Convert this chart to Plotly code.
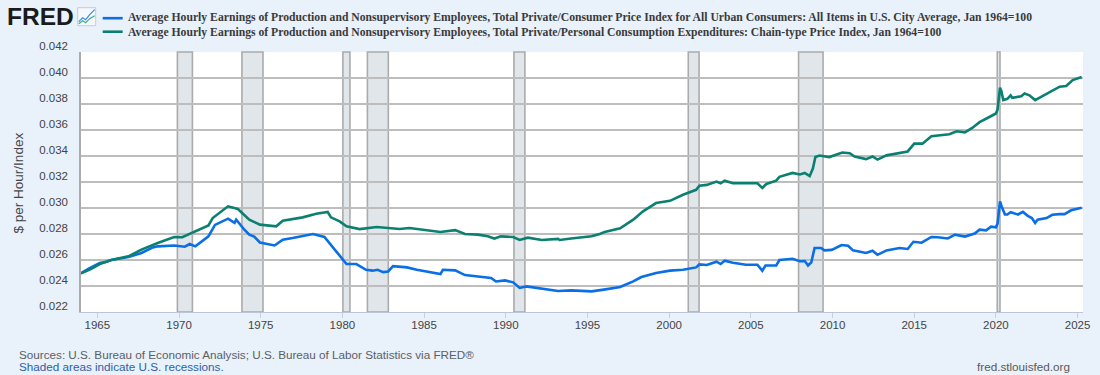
import plotly.graph_objects as go

W, H = 1100, 375
L, R, T, B = 81.3, 1083.5, 52.3, 312.3

title_cpi = "Average Hourly Earnings of Production and Nonsupervisory Employees, Total Private/Consumer Price Index for All Urban Consumers: All Items in U.S. City Average, Jan 1964=100"
title_pce = "Average Hourly Earnings of Production and Nonsupervisory Employees, Total Private/Personal Consumption Expenditures: Chain-type Price Index, Jan 1964=100"

years_cpi = [1964.0,1964.5,1965.15,1965.5,1965.85,1966.9,1967.7,1968.4,1968.7,1969.7,1970.35,1970.65,1971.0,1971.8,1972.2,1973.0,1973.4,1973.5,1974.0,1974.3,1974.6,1974.95,1975.85,1976.35,1976.95,1978.2,1978.9,1979.2,1979.8,1980.25,1980.85,1981.45,1981.85,1982.15,1982.5,1982.8,1983.1,1983.95,1984.55,1985.05,1986.0,1986.15,1986.9,1987.5,1988.5,1989.1,1989.4,1989.95,1990.45,1990.85,1991.25,1992.2,1993.2,1994.0,1995.25,1996.0,1997.0,1997.8,1998.3,1999.2,2000.05,2000.85,2001.65,2001.85,2002.3,2002.9,2003.15,2003.4,2003.9,2004.7,2005.4,2005.7,2005.9,2006.55,2006.75,2007.55,2008.0,2008.3,2008.5,2008.7,2008.9,2009.3,2009.5,2009.95,2010.55,2010.95,2011.25,2012.05,2012.45,2012.75,2013.3,2014.1,2014.6,2014.95,2015.45,2016.05,2016.45,2017.05,2017.5,2018.1,2018.7,2019.0,2019.4,2019.7,2020.0,2020.1,2020.25,2020.35,2020.55,2020.7,2020.9,2021.35,2021.65,2021.95,2022.2,2022.4,2022.55,2023.1,2023.45,2023.9,2024.2,2024.6,2025.25]
values_cpi = [.02497,.02535,.02577,.02585,.0260,.02623,.02654,.02697,.02705,.02712,.02702,.02723,.02705,.02782,.0287,.02918,.02885,.0291,.02833,.02795,.0278,.02735,.02712,.02756,.02769,.028,.02777,.0273,.0264,.02569,.02569,.02525,.02518,.02525,.02507,.02512,.02553,.02543,.02525,.02512,.02492,.02525,.0252,.02484,.02469,.02462,.02435,.02443,.02428,.02385,.02397,.02379,.02362,.02366,.02359,.02372,.02392,.02435,.02469,.025,.02518,.02525,.02543,.02566,.02562,.02587,.02569,.02595,.02579,.02564,.02564,.02518,.02558,.02558,.026,.0261,.0259,.02592,.02558,.02582,.02692,.02692,.02674,.02678,.02715,.0271,.02674,.02654,.02671,.0264,.02674,.02692,.02685,.0274,.02733,.02777,.02775,.02766,.02795,.0278,.02803,.02833,.02828,.02856,.02851,.0288,.0305,.03012,.0295,.0295,.02967,.0295,.0297,.0294,.02923,.02885,.0291,.02923,.02948,.02953,.02953,.02982,.03002]

years_pce = [1964.0,1964.6,1965.15,1965.85,1966.9,1967.7,1968.7,1969.7,1970.2,1970.75,1971.8,1972.06,1973.0,1973.6,1974.3,1974.95,1975.95,1976.35,1977.57,1978.4,1979.1,1979.3,1979.83,1980.25,1981.05,1982.1,1982.7,1983.5,1984.1,1985.05,1986.0,1986.9,1987.5,1988.3,1988.9,1989.3,1989.7,1990.45,1990.85,1991.35,1992.2,1993.2,1993.3,1994.0,1995.25,1995.75,1996.05,1997.0,1997.8,1998.4,1999.2,2000.05,2000.85,2001.65,2001.85,2002.3,2002.9,2003.15,2003.4,2003.9,2004.7,2005.4,2005.7,2005.95,2006.55,2006.75,2007.55,2008.0,2008.3,2008.6,2008.8,2008.95,2009.2,2009.8,2010.6,2011.05,2011.35,2012.05,2012.45,2012.75,2013.3,2014.1,2014.6,2015.0,2015.5,2016.05,2017.15,2017.6,2018.1,2018.55,2019.0,2019.6,2020.0,2020.1,2020.25,2020.33,2020.45,2020.7,2020.9,2021.0,2021.55,2021.75,2022.05,2022.4,2022.85,2023.45,2023.9,2024.3,2024.7,2025.25]
values_pce = [.02497,.0253,.02569,.0260,.02628,.0268,.02731,.02777,.02775,.02808,.02866,.02923,.03013,.02992,.0291,.02872,.02859,.02902,.02928,.02956,.02969,.02928,.02897,.02859,.02838,.02854,.02846,.02838,.02846,.0283,.02815,.0283,.028,.02795,.02782,.02765,.02782,.02777,.02754,.02772,.02754,.02762,.02754,.02766,.02782,.028,.02815,.02844,.0291,.02974,.03038,.03055,.03102,.0314,.03172,.03178,.03203,.0319,.0321,.0319,.0319,.0319,.03155,.03185,.0321,.0324,.0327,.03258,.0327,.03245,.03305,.03392,.03404,.03392,.03427,.03422,.03396,.03376,.03396,.03372,.03405,.03427,.03435,.03495,.03495,.03552,.03567,.0359,.03582,.03616,.0366,.037,.03727,.03757,.03925,.039,.0383,.0384,.03866,.03847,.0386,.03881,.03867,.0383,.0386,.03899,.03933,.03938,.03984,.04007]

recessions = [(1969.9,1970.82),(1973.85,1975.14),(1980.03,1980.46),(1981.53,1982.81),(1990.5,1991.17),(2001.17,2001.83),(2007.92,2009.42),(2020.08,2020.25)]
x_ticks = [1965,1970,1975,1980,1985,1990,1995,2000,2005,2010,2015,2020,2025]
y_ticks = [.022,.024,.026,.028,.030,.032,.034,.036,.038,.040,.042]

BLUE, GREEN = "#0a6ee6", "#0b8070"
PX = lambda p: (p - L) / (R - L)
PY = lambda p: (B - p) / (B - T)

fig = go.Figure()
fig.add_trace(go.Scatter(x=years_cpi, y=values_cpi, mode="lines", line=dict(color=BLUE, width=2.6), showlegend=False))
fig.add_trace(go.Scatter(x=years_pce, y=values_pce, mode="lines", line=dict(color=GREEN, width=2.6), showlegend=False))

shapes = [dict(type="rect", xref="x", yref="paper", x0=a, x1=b, y0=0, y1=1, fillcolor="#e1e6ea",
               line=dict(color="#ababab", width=1.6), layer="below") for a, b in recessions]
for py, col in ((18.5, BLUE), (32, GREEN)):
    shapes.append(dict(type="line", xref="paper", yref="paper", x0=PX(103), x1=PX(123), y0=PY(py), y1=PY(py),
                       line=dict(color=col, width=2.6)))
shapes.append(dict(type="rect", xref="paper", yref="paper", x0=PX(78), x1=PX(96), y0=PY(26), y1=PY(8),
                   fillcolor="#f4f8fc", line=dict(color="#c4ccd4", width=1)))
def poly(pts):
    return "M" + "L".join(f"{PX(a):.5f},{PY(b):.5f}" for a, b in pts)
shapes.append(dict(type="path", xref="paper", yref="paper", path=poly([(79,22),(83,18),(86,20),(90,15),(95,10)]),
                   line=dict(color="#3b8ee0", width=1.2)))
shapes.append(dict(type="path", xref="paper", yref="paper", path=poly([(79,24),(83,21),(86,23),(90,19),(95,16)]),
                   line=dict(color="#45a890", width=1.2)))

def note(text, x, y, size, color, family, anchor="left", angle=0, yanchor="middle"):
    return dict(text=text, xref="paper", yref="paper", x=PX(x), y=PY(y), xanchor=anchor, yanchor=yanchor,
                showarrow=False, textangle=angle, font=dict(size=size, color=color, family=family),
                borderpad=0, borderwidth=0)

annotations = [
    note(f"<b>{title_cpi}</b>", 128, 18, 11.68, "#3a3a3a", "Liberation Serif"),
    note(f"<b>{title_pce}</b>", 128, 32.3, 11.68, "#3a3a3a", "Liberation Serif"),
    note("<b>FRED</b>", 7, 17, 24.5, "#1a1a1a", "Liberation Sans"),
    note("Sources: U.S. Bureau of Economic Analysis; U.S. Bureau of Labor Statistics via FRED®", 19, 354.5, 11.7, "#5a5f66", "Liberation Sans"),
    note("Shaded areas indicate U.S. recessions.", 19, 367, 11.7, "#2f5fa8", "Liberation Sans"),
    note("fred.stlouisfed.org", 1070, 367, 11.7, "#5a5a5a", "Liberation Sans", "right"),
    note("$ per Hour/Index", 19, 183, 13.5, "#444444", "Liberation Sans", "center", -90),
]

fig.update_layout(
    width=W, height=H, autosize=False,
    margin=dict(l=L, r=W - R, t=T, b=H - B, pad=0, autoexpand=False),
    paper_bgcolor="#e9f1fa", plot_bgcolor="#ffffff",
    shapes=shapes, annotations=annotations,
    font=dict(family="Liberation Sans", size=13, color="#444444"),
    xaxis=dict(range=[1964.0, 2025.33], tickmode="array", tickvals=x_ticks, ticktext=[str(t) for t in x_ticks],
               showgrid=False, zeroline=False, ticks="outside", ticklen=5, tickwidth=1, tickcolor="#c5d0e0",
               showline=True, linecolor="#bcc6d6", linewidth=1, ticklabelstandoff=-3, tickfont=dict(size=11.5, color="#444444")),
    yaxis=dict(range=[.022, .042], tickmode="array", tickvals=y_ticks, ticktext=[f"{t:.3f}" for t in y_ticks],
               showgrid=True, gridcolor="#bdbdbd", gridwidth=1.8, zeroline=False, showline=True, linecolor="#ababab",
               linewidth=1.5, ticks="", ticklabelstandoff=9, ticklabelshift=-6, tickfont=dict(size=11.5, color="#444444")),
)
fig.write_html("out.html", config={"displayModeBar": False},
               post_script="document.body.style.margin='0';document.body.style.overflow='hidden';")
